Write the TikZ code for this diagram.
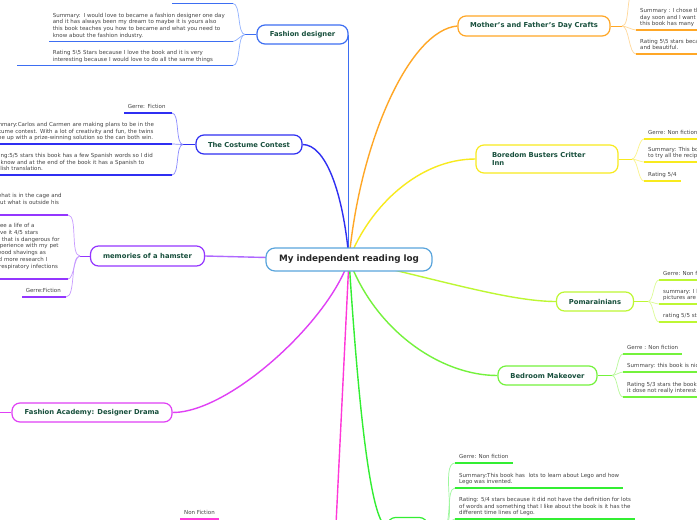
\documentclass[tikz,border=0pt]{standalone}
\usepackage{fontspec}
\setmainfont{DejaVu Sans}
\usetikzlibrary{backgrounds}

\definecolor{logblue}{HTML}{5AA5DC}
\definecolor{topictext}{HTML}{174F3C}
\definecolor{leaftext}{HTML}{444444}
\definecolor{fdblue}{HTML}{3D6EF2}
\definecolor{fdlight}{HTML}{8FB0FF}
\definecolor{ccblue}{HTML}{2F2FF2}
\definecolor{cclight}{HTML}{8A8AFF}
\definecolor{hampurple}{HTML}{9436FF}
\definecolor{hamlight}{HTML}{C79AFF}
\definecolor{famag}{HTML}{E040F5}
\definecolor{nbmag}{HTML}{FF38D8}
\definecolor{mforange}{HTML}{FFA726}
\definecolor{mflight}{HTML}{FFD89A}
\definecolor{bbyellow}{HTML}{F8EA1E}
\definecolor{bblight}{HTML}{FBF38A}
\definecolor{pomlime}{HTML}{BDF733}
\definecolor{pomlight}{HTML}{DCFB96}
\definecolor{bmgreen}{HTML}{74F23C}
\definecolor{bmlight}{HTML}{B8F99A}
\definecolor{lggreen}{HTML}{33EE33}
\definecolor{lglight}{HTML}{9DF79D}

\newcommand\leaffont{\fontsize{5.5}{6.7}\selectfont}
\newcommand\topicfont{\fontsize{6.8}{8.6}\selectfont\bfseries}
\newcommand\logfont{\fontsize{8.8}{10}\selectfont\bfseries}

\begin{document}
\begin{tikzpicture}[
    x=1pt, y=-1pt,
    topic/.style={draw=#1, line width=1.2pt, fill=white, rounded corners=8pt,
        font=\topicfont, text=topictext, minimum height=19pt, inner xsep=6pt},
    leaf/.style={font=\leaffont, text=leaftext, align=left, inner xsep=4pt},
    lleaf/.style={leaf, anchor=south east, inner ysep=2pt,
        execute at end node=\strut},
    rleaf/.style={leaf, anchor=south west, inner ysep=2.5pt, text depth=1.5pt},
    branch/.style={draw=#1, line width=1.4pt},
    link/.style={draw=#1, line width=0.7pt},
    uline/.style={draw=#1, line width=1.3pt},
    lft/.style={out=180, in=0, looseness=0.6},
    rgt/.style={out=0, in=180, looseness=0.6},
]

\useasboundingbox (0,0) rectangle (697,520);
\clip (0,0) rectangle (697,520);

% =====================================================
% centre and main topics
% =====================================================

\node[draw=logblue, line width=1.2pt, fill=white, rounded corners=9pt,
    font=\logfont, text=black!85, minimum width=166pt, minimum height=23pt]
    (log) at (349,259.5) {My independent reading log};

\node[topic=fdblue, minimum width=91pt] (fd) at (302.5,34.5) {Fashion designer};
\node[topic=ccblue, minimum width=106pt] (cc) at (249,144.5) {The Costume Contest};
\node[topic=hampurple, minimum width=114pt, minimum height=20pt] (ham) at (147.5,256) {memories of a hamster};
\node[topic=famag, minimum width=160pt] (fa) at (92,412.5) {Fashion Academy: Designer Drama};
\node[topic=mforange, minimum width=152pt, minimum height=20pt] (mf) at (534,26) {Mother's and Father's Day Crafts};
\node[topic=bbyellow, minimum width=142pt, minimum height=28pt, text width=110pt,
    inner xsep=16pt, align=left] (bb) at (547,159) {Boredom Busters Critter\\Inn};
\node[topic=pomlime, minimum width=77pt] (pom) at (595,301.5) {Pomarainians};
\node[topic=bmgreen, minimum width=99pt] (bm) at (547.5,375.5) {Bedroom Makeover};
\node[topic=lggreen, minimum width=40pt] (lego) at (407.5,527) {};

\coordinate (nb) at (335,545);

% =====================================================
% left side children
% =====================================================

\coordinate (fdj) at (245,34.5);
\node[lleaf, text width=53pt] (fd0) at (233,3.5) {};
\node[lleaf, text width=176pt] (fd1) at (233,41.5)
{Summary: I would love to became a fashion designer one day\\and it has always been my dream to maybe it is yours also\\this book teaches you how to became and what you need to\\know about the fashion industry.};
\node[lleaf, text width=176pt] (fd2) at (233,65.5)
{Rating 5\textbackslash5 Stars because I love the book and it is very\\interesting because I would love to do all the same things};

\coordinate (ccj) at (183,144.5);
\node[lleaf, text width=40pt] (cc1) at (172,113) {Gerre: Fiction};
\node[lleaf, text width=178pt] (cc2) at (172,144)
{Summary:Carlos and Carmen are making plans to be in the\\costume contest. With a lot of creativity and fun, the twins\\came up with a prize-winning solution so the can both win.};
\node[lleaf, text width=178pt] (cc3) at (172,175)
{Rating:5/5 stars this book has a few Spanish words so I did\\not know and at the end of the book it has a Spanish to\\English translation.};

\coordinate (hamj) at (80,256);
\node[lleaf, text width=74pt] (ham1) at (68,215)
{of what is in the cage and\\about what is outside his\\\mbox{}};
\node[lleaf, text width=74pt] (ham2) at (68,279)
{to see a life of a\\I gave it 4/5 stars\\and that is dangerous for\\I experience with my pet\\of wood shavings as\\read more research I\\for respiratory infections\\\mbox{}};
\node[lleaf, text width=36pt] (ham3) at (66,297) {Gerre:Fiction};

\coordinate (faj) at (-12,412.5);
\node[rleaf] (nf) at (180,519) {Non Fiction};

% =====================================================
% right side children
% =====================================================

\coordinate (mfj) at (622,26);
\coordinate (mf0) at (634,-8);
\node[rleaf] (mf1) at (636,30)
{Summary : I chose this\\day soon and I want\\this book has many};
\node[rleaf] (mf2) at (636,54)
{Rating 5\textbackslash5 stars because\\and beautiful.};

\coordinate (bbj) at (632,159);
\node[rleaf] (bb1) at (644,139) {Gerre: Non fiction};
\node[rleaf] (bb2) at (644,162) {Summary: This book\\to try all the recipes};
\node[rleaf] (bb3) at (644,181) {Rating 5/4};

\coordinate (pomj) at (648,301.5);
\node[rleaf] (pom1) at (659,280) {Gerre: Non fiction};
\node[rleaf] (pom2) at (659,304) {summary: I like\\pictures are cute};
\node[rleaf] (pom3) at (659,322) {rating 5/5 stars};

\coordinate (bmj) at (612,375.5);
\node[rleaf] (bm1) at (623,354) {Gerre : Non fiction};
\node[rleaf] (bm2) at (623,372) {Summary: this book is nice};
\node[rleaf] (bm3) at (623,397) {Rating 5/3 stars the book is\\it dose not really interest me};

\coordinate (lgj) at (443,527);
\node[rleaf] (lg1) at (455,463) {Gerre: Non fiction};
\node[rleaf] (lg2) at (455,488)
{Summary:This book has\ \ lots to learn about Lego and how\\Lego was invented.};
\node[rleaf] (lg3) at (455,519)
{Rating: 5/4 stars because it did not have the definition for lots\\of words and something that I like about the book is it has the\\different time lines of Lego.};

% =====================================================
% connectors (behind the boxes)
% =====================================================

\begin{scope}[on background layer]
\clip (0,0) rectangle (697,520);
\fill[white] (0,0) rectangle (697,520);

\draw[branch=fdblue] (fd.east) -- (fd.east |- log.center);
\draw[branch=ccblue] (cc.east) .. controls (325,144.5) and (343,190) .. (log.center);
\draw[branch=hampurple!75] (ham.east) -- (log.center);
\draw[branch=famag] (fa.east) .. controls (230,412.5) and (330,320) .. (log.center);
\draw[branch=nbmag] (log.center) -- (nb);
\draw[branch=mforange] (mf.west) .. controls (410,30) and (360,140) .. (log.center);
\draw[branch=bbyellow] (bb.west) .. controls (420,159) and (370,205) .. (log.center);
\draw[branch=pomlime] (pom.west) .. controls (510,301.5) and (440,280) .. (log.center);
\draw[branch=bmgreen] (bm.west) .. controls (440,375.5) and (375,330) .. (log.center);
\draw[branch=lggreen] (lego.west) .. controls (370,522) and (358,400) .. (log.center);

% Fashion designer
\draw[link=fdblue] (fd.west) -- (fdj);
\draw[link=fdlight] (fdj) to[lft] (fd0.south east);
\draw[link=fdlight] (fdj) to[lft] (fd1.south east);
\draw[link=fdlight] (fdj) to[lft] (fd2.south east);
\draw[uline=fdblue] (fd0.south east) -- (fd0.south west);
\draw[uline=fdblue] (fd1.south east) -- (fd1.south west);
\draw[uline=fdblue] (fd2.south east) -- (fd2.south west) -- ++(-32,0);

% The Costume Contest
\draw[link=ccblue] (cc.west) -- (ccj);
\draw[link=cclight] (ccj) to[lft] (cc1.south east);
\draw[link=cclight] (ccj) to[lft] (cc2.south east);
\draw[link=cclight] (ccj) to[lft] (cc3.south east);
\draw[uline=ccblue] (cc1.south east) -- (cc1.south west);
\draw[uline=ccblue] (cc2.south east) -- (cc2.south west);
\draw[uline=ccblue] (cc3.south east) -- (cc3.south west);

% memories of a hamster
\draw[link=hampurple] (ham.west) -- (hamj);
\draw[link=hamlight] (hamj) to[lft] (ham1.south east);
\draw[link=hamlight] (hamj) to[lft] (ham2.south east);
\draw[link=hamlight] (hamj) to[lft] (ham3.south east);
\draw[uline=hampurple] (ham1.south east) -- (ham1.south west);
\draw[uline=hampurple] (ham2.south east) -- (ham2.south west);
\draw[uline=hampurple] (ham3.south east) -- (ham3.south west);

% Fashion Academy and the lower branch
\draw[link=famag] (fa.west) -- (faj);
\draw[uline=nbmag] (nf.south west) -- (nf.south east);

% Mother's and Father's Day Crafts
\draw[link=mforange] (mf.east) -- (mfj);
\draw[link=mflight] (mfj) to[rgt] (mf0);
\draw[link=mflight] (mfj) to[rgt] (mf1.south west);
\draw[link=mflight] (mfj) to[rgt] (mf2.south west);
\draw[uline=mforange] (mf1.south west) -- (mf1.south east);
\draw[uline=mforange] (mf2.south west) -- (mf2.south east);

% Boredom Busters Critter Inn
\draw[link=bbyellow] (bb.east) -- (bbj);
\draw[link=bblight] (bbj) to[rgt] (bb1.south west);
\draw[link=bblight] (bbj) to[rgt] (bb2.south west);
\draw[link=bblight] (bbj) to[rgt] (bb3.south west);
\draw[uline=bbyellow] (bb1.south west) -- (bb1.south east);
\draw[uline=bbyellow] (bb2.south west) -- (bb2.south east);
\draw[uline=bbyellow] (bb3.south west) -- (bb3.south east);

% Pomarainians
\draw[link=pomlime] (pom.east) -- (pomj);
\draw[link=pomlight] (pomj) to[rgt] (pom1.south west);
\draw[link=pomlight] (pomj) to[rgt] (pom2.south west);
\draw[link=pomlight] (pomj) to[rgt] (pom3.south west);
\draw[uline=pomlime] (pom1.south west) -- (pom1.south east);
\draw[uline=pomlime] (pom2.south west) -- (pom2.south east);
\draw[uline=pomlime] (pom3.south west) -- (pom3.south east);

% Bedroom Makeover
\draw[link=bmgreen] (bm.east) -- (bmj);
\draw[link=bmlight] (bmj) to[rgt] (bm1.south west);
\draw[link=bmlight] (bmj) to[rgt] (bm2.south west);
\draw[link=bmlight] (bmj) to[rgt] (bm3.south west);
\draw[uline=bmgreen] (bm1.south west) -- (bm1.south east);
\draw[uline=bmgreen] (bm2.south west) -- (bm2.south east);
\draw[uline=bmgreen] (bm3.south west) -- (bm3.south east);

% Lego
\draw[link=lggreen] (lego.east) -- (lgj);
\draw[link=lglight] (lgj) to[rgt] (lg1.south west);
\draw[link=lglight] (lgj) to[rgt] (lg2.south west);
\draw[link=lglight] (lgj) to[rgt] (lg3.south west);
\draw[uline=lggreen] (lg1.south west) -- (lg1.south east);
\draw[uline=lggreen] (lg2.south west) -- (lg2.south east);
\draw[uline=lggreen] (lg3.south west) -- (lg3.south east);
\end{scope}

\end{tikzpicture}
\end{document}
